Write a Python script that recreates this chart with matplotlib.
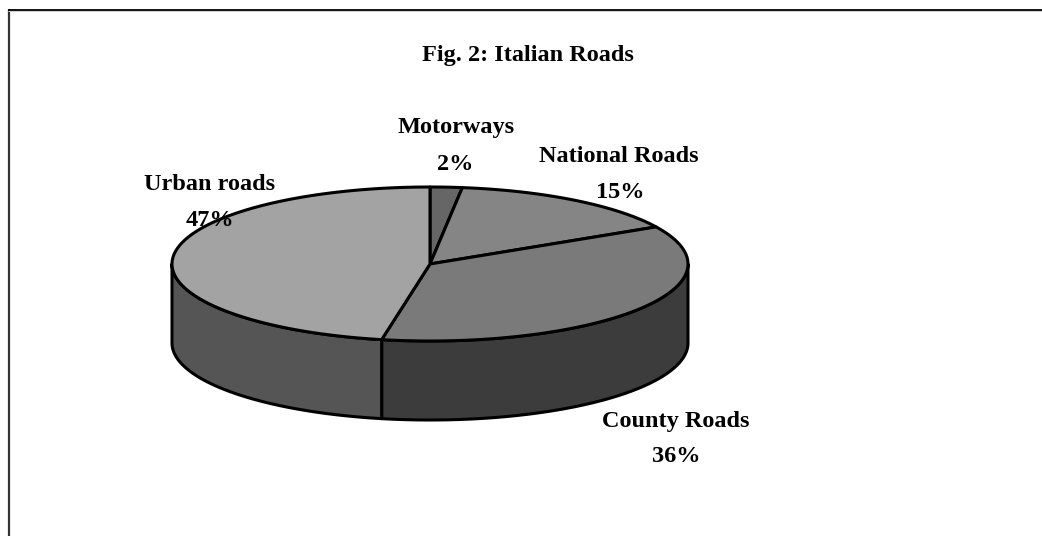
import numpy as np
import matplotlib
matplotlib.use('Agg')
import matplotlib.pyplot as plt
from matplotlib.patches import Polygon

labels = ['Motorways', 'National Roads', 'County Roads', 'Urban roads']
values = [2, 15, 36, 47]
top_colors = ['#666666', '#858585', '#7a7a7a', '#a3a3a3']
side_colors = ['#333333', '#434343', '#3c3c3c', '#555555']

cx, cy = 430, 264
rx, ry = 258, 77
depth = 79


def rim(a0, a1, dy=0, n=200):
    # clockwise from 12 o'clock, y down in pixels
    t = np.radians(np.linspace(a0, a1, n))
    return np.column_stack([cx + rx*np.sin(t), cy - ry*np.cos(t) + dy])


plt.rcParams['font.family'] = ['Liberation Serif', 'DejaVu Serif']

fig = plt.figure(figsize=(10.42, 5.36), dpi=100)
ax = fig.add_axes([0, 0, 1, 1])
ax.set_xlim(0, 1042)
ax.set_ylim(536, 0)
ax.axis('off')

# chart frame, only left and top show
ax.plot([8.5, 8.5], [536, 9], color='#333333', lw=1.6, solid_capstyle='butt')
ax.plot([8, 1042], [9.5, 9.5], color='black', lw=1.3, solid_capstyle='butt')
ax.plot([8, 1042], [11, 11], color='#cccccc', lw=0.7, solid_capstyle='butt')

# slice angles
edges = 3.6*np.cumsum([0] + values)

# side walls, only the part of each slice facing the viewer
for i in range(len(values)):
    a0 = max(edges[i], 90)
    a1 = min(edges[i+1], 270)
    if a0 >= a1:
        continue
    wall = np.vstack([rim(a0, a1), rim(a0, a1, depth)[::-1]])
    ax.add_patch(Polygon(wall, closed=True, fc=side_colors[i], ec='black', lw=2.2, joinstyle='round'))

# top slices
for i in range(len(values)):
    top = np.vstack([[cx, cy], rim(edges[i], edges[i+1])])
    ax.add_patch(Polygon(top, closed=True, fc=top_colors[i], ec='black', lw=2.2, joinstyle='round'))

bold = dict(fontweight='bold', ha='center', va='center', color='black', fontsize=17.5)
ax.text(528, 56, 'Fig. 2: Italian Roads', **bold)
pos = [(456, 127, 455, 164), (619, 156, 620, 192), (676, 421, 676, 457), (210, 184, 210, 221)]
for name, v, (x1, y1, x2, y2) in zip(labels, values, pos):
    ax.text(x1, y1, name, **bold)
    ax.text(x2, y2, '%d%%' % v, **bold)

fig.savefig('out.png', dpi=100, facecolor='white')
